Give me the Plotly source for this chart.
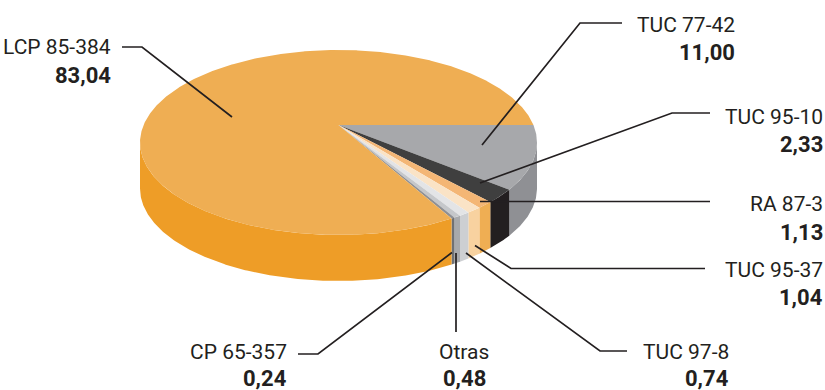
import numpy as np
import plotly.graph_objects as go

# --- data (clockwise from the horizontal right edge of the pie) ---
names = ["TUC 77-42", "TUC 95-10", "RA 87-3", "TUC 95-37", "TUC 97-8", "Otras", "CP 65-357", "LCP 85-384"]
values = [11.00, 2.33, 1.13, 1.04, 0.74, 0.48, 0.24, 83.04]
value_text = ["11,00", "2,33", "1,13", "1,04", "0,74", "0,48", "0,24", "83,04"]
top_colors = ["#A7A8AB", "#3F3F3F", "#F4B675", "#FAE3C6", "#E3E4E6", "#C5C7CA", "#8F9094", "#EFAE53"]
side_colors = ["#8F9094", "#231F20", "#EFAE53", "#F8D2A0", "#CDCFD2", "#A7A9AC", "#6F7174", "#EE9D27"]

# --- projection of the disc ---
CX, CY, RX, RY = 338.5, 142.5, 198.5, 92.5
APEX_SHIFT = -17.5 / 92.5
DEPTH = 46.0
INK = "#231F20"


def project(theta_deg, radius=1.0, drop=0.0):
    t = np.radians(theta_deg)
    u, v = radius * np.cos(t), radius * np.sin(t)
    den = 1 + APEX_SHIFT * v
    x = u * np.sqrt(1 - APEX_SHIFT ** 2) / den
    y = (v + APEX_SHIFT) / den
    return CX + RX * x, CY + RY * y + drop


fig = go.Figure()


def poly(xs, ys, color):
    fig.add_trace(go.Scatter(x=list(xs), y=list(ys), mode="lines", fill="toself", fillcolor=color,
                             line=dict(width=0, color=color), hoverinfo="skip", showlegend=False))


edges = np.concatenate([[0.0], np.cumsum(values)]) * 3.6
vis_lo = np.degrees(np.arcsin(-APEX_SHIFT))
vis_hi = 180 - vis_lo

# sides of the front half
for a0, a1, c in zip(edges[:-1], edges[1:], side_colors):
    lo, hi = max(a0, vis_lo), min(a1, vis_hi)
    if hi <= lo:
        continue
    th = np.linspace(lo, hi, max(int((hi - lo) * 2), 4))
    x1, y1 = project(th)
    x2, y2 = project(th[::-1], drop=DEPTH)
    poly(np.r_[x1, x2, x1[0]], np.r_[y1, y2, y1[0]], c)

# top faces
for a0, a1, c in zip(edges[:-1], edges[1:], top_colors):
    th = np.linspace(a0, a1, max(int((a1 - a0) * 2), 4))
    x1, y1 = project(th)
    ax, ay = project(np.array([0.0]), radius=0.0)
    poly(np.r_[ax, x1, ax], np.r_[ay, y1, ay], c)

# leader lines
leaders = [
    [(122, 47), (142, 47), (232, 117)],
    [(622, 23), (580, 23), (482, 145)],
    [(710, 113), (672, 113), (480, 183)],
    [(710, 201.5), (480, 201.5)],
    [(705, 268.5), (511, 268.5), (475, 245.5)],
    [(627, 351), (600, 351), (466, 253)],
    [(456, 332), (456, 253)],
    [(298, 354), (318, 354), (452, 252.5)],
]
for pts in leaders:
    fig.add_trace(go.Scatter(x=[p[0] for p in pts], y=[p[1] for p in pts], mode="lines",
                             line=dict(color=INK, width=1.7), hoverinfo="skip", showlegend=False))

# labels: x, anchor, name y, value y
label_pos = {
    "LCP 85-384": (113, "right", 47, 75),
    "TUC 77-42": (737, "right", 25, 52),
    "TUC 95-10": (825, "right", 117, 144),
    "RA 87-3": (825, "right", 204, 232),
    "TUC 95-37": (825, "right", 270, 297),
    "TUC 97-8": (731, "right", 352, 378),
    "Otras": (464, "center", 352, 378),
    "CP 65-357": (289, "right", 352, 378),
}
FONT = "Roboto, sans-serif"
ann = []
for n, vt in zip(names, value_text):
    x, anchor, y1, y2 = label_pos[n]
    ann.append(dict(x=x, y=y1, text=n, xanchor=anchor, yanchor="middle", showarrow=False,
                    font=dict(family=FONT, size=21, color=INK)))
    ann.append(dict(x=x, y=y2, text="<b>%s</b>" % vt, xanchor=anchor, yanchor="middle", showarrow=False,
                    font=dict(family=FONT, size=22, color=INK)))

fig.update_layout(
    width=825, height=390, margin=dict(l=0, r=0, t=0, b=0),
    paper_bgcolor="white", plot_bgcolor="white", showlegend=False, annotations=ann,
    xaxis=dict(range=[0, 825], visible=False, fixedrange=True),
    yaxis=dict(range=[390, 0], visible=False, fixedrange=True),
)
fig.write_html("out.html", config=dict(displayModeBar=False),
               post_script="document.body.style.margin='0';")
